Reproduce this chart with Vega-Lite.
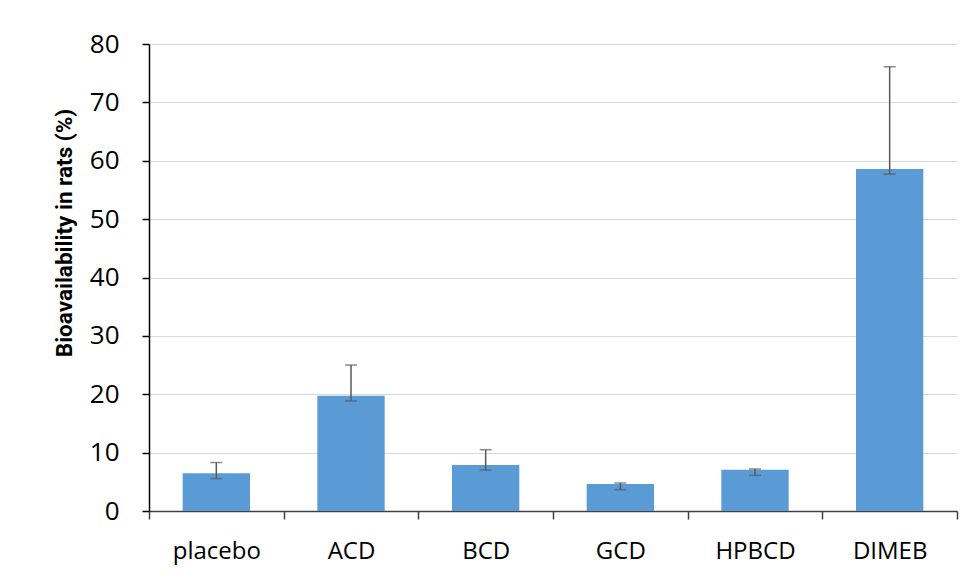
{
  "$schema": "https://vega.github.io/schema/vega-lite/v6.json",
  "width": 808,
  "height": 467,
  "autosize": {"type": "none"},
  "padding": {"left": 149, "top": 44, "right": 9, "bottom": 70},
  "background": "white",
  "config": {
    "view": {"stroke": null},
    "font": "Open Sans"
  },
  "data": {
    "values": [
      {"group": "placebo", "value": 6.46, "lower": 5.55, "upper": 8.3},
      {"group": "ACD", "value": 19.74, "lower": 18.85, "upper": 25.0},
      {"group": "BCD", "value": 7.88, "lower": 7.0, "upper": 10.5},
      {"group": "GCD", "value": 4.62, "lower": 3.65, "upper": 4.8},
      {"group": "HPBCD", "value": 7.07, "lower": 6.1, "upper": 7.2},
      {"group": "DIMEB", "value": 58.6, "lower": 57.7, "upper": 76.1}
    ]
  },
  "encoding": {
    "x": {
      "field": "group",
      "type": "nominal",
      "sort": null,
      "scale": {"paddingInner": 0, "paddingOuter": 0},
      "axis": {
        "title": null,
        "labelAngle": 0,
        "labelFontSize": 24,
        "labelColor": "#000000",
        "labelPadding": 20,
        "tickBand": "extent",
        "tickSize": 8,
        "tickColor": "#404040",
        "domainColor": "#404040",
        "domainWidth": 1.5,
        "tickWidth": 1.5
      }
    }
  },
  "layer": [
    {
      "mark": {"type": "bar", "color": "#5b9bd5", "width": {"band": 0.5}},
      "encoding": {
        "y": {
          "field": "value",
          "type": "quantitative",
          "scale": {"domain": [0, 80], "nice": false},
          "axis": {
            "values": [0, 10, 20, 30, 40, 50, 60, 70, 80],
            "title": "Bioavailability in rats (%)",
            "titleFont": "'Liberation Sans Narrow', Roboto",
            "titleFontSize": 22.5,
            "titleFontWeight": "bold",
            "titleColor": "#000000",
            "titleX": -78,
            "titleY": 188.5,
            "titleAngle": -90,
            "titleAlign": "center",
            "titleBaseline": "alphabetic",
            "labelFontSize": 26,
            "labelColor": "#000000",
            "labelPadding": 23,
            "tickSize": 7,
            "tickColor": "#000000",
            "domainColor": "#000000",
            "domainWidth": 1.5,
            "tickWidth": 1.5,
            "grid": true,
            "gridColor": "#d9d9d9",
            "gridWidth": 1.2
          }
        }
      }
    },
    {
      "mark": {"type": "rule", "color": "#595959", "strokeWidth": 1.5},
      "encoding": {
        "y": {"field": "lower", "type": "quantitative"},
        "y2": {"field": "upper"}
      }
    },
    {
      "mark": {"type": "tick", "color": "#595959", "thickness": 1.5, "size": 12},
      "encoding": {
        "y": {"field": "lower", "type": "quantitative"}
      }
    },
    {
      "mark": {"type": "tick", "color": "#595959", "thickness": 1.5, "size": 12},
      "encoding": {
        "y": {"field": "upper", "type": "quantitative"}
      }
    }
  ]
}
